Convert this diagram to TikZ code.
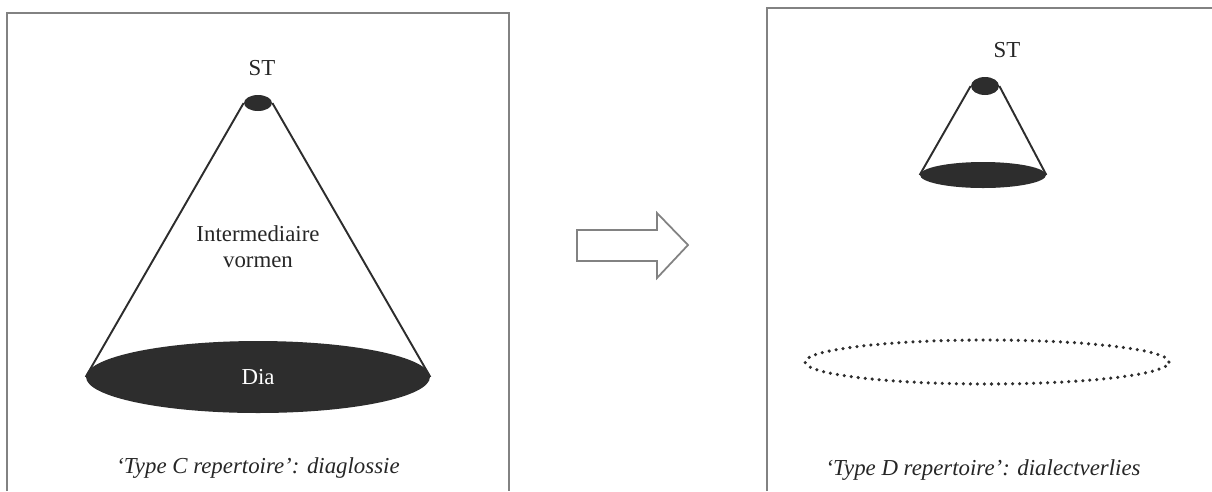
\documentclass[tikz,border=0pt]{standalone}
\usepackage{fontspec}
\setmainfont{Liberation Serif}
\definecolor{conegray}{RGB}{45,45,45}
\definecolor{framegray}{RGB}{130,130,130}
\usetikzlibrary{shapes.geometric}

\begin{document}
\begin{tikzpicture}[
    x=0.02cm, y=-0.02cm,
    disc/.style={ellipse, fill=conegray, inner sep=0pt},
    side/.style={draw=conegray, line width=1.1pt},
    frame/.style={draw=framegray, line width=1.2pt},
    lbl/.style={font=\fontsize{13}{15}\selectfont, text=black!85},
    caption/.style={font=\fontsize{13}{15}\selectfont\itshape, text=black!85}
]
    \useasboundingbox (0,0) rectangle (1212,491);

    % frames
    \draw[frame] (7,491) -- (7,13) -- (509,13) -- (509,491);
    \draw[frame] (767,491) -- (767,8) -- (1212,8);

    % Type C
    \node[lbl] (stC) at (262,68) {ST};
    \node[disc, minimum width=0.56cm, minimum height=0.32cm] (topC) at (258,103) {};
    \node[disc, minimum width=6.88cm, minimum height=1.44cm, text=white, font=\fontsize{13}{15}\selectfont] (baseC) at (258,377) {Dia};
    \node[lbl, align=center] (midC) at (258,247) {Intermediaire\\vormen};
    \draw[side] (topC.west) -- (baseC.west);
    \draw[side] (topC.east) -- (baseC.east);
    \node[caption] (capC) at (258,468) {`Type C repertoire': diaglossie};

    % arrow
    \draw[frame, line width=1pt, line join=miter] (577,230) -- (657,230) -- (657,213) -- (688,245)
        -- (657,278) -- (657,261) -- (577,261) -- cycle;

    % Type D
    \node[lbl] (stD) at (1007,50) {ST};
    \node[disc, minimum width=0.56cm, minimum height=0.36cm] (topD) at (985,86) {};
    \node[disc, minimum width=2.52cm, minimum height=0.52cm] (baseD) at (983,175) {};
    \draw[side] (topD.west) -- (baseD.west);
    \draw[side] (topD.east) -- (baseD.east);
    \node[ellipse, draw=conegray, line width=2pt, line cap=round, dash pattern=on 0pt off 4pt,
        minimum width=7.28cm, minimum height=0.88cm] (lostD) at (987,362) {};
    \node[caption] (capD) at (983,470) {`Type D repertoire': dialectverlies};
\end{tikzpicture}
\end{document}
